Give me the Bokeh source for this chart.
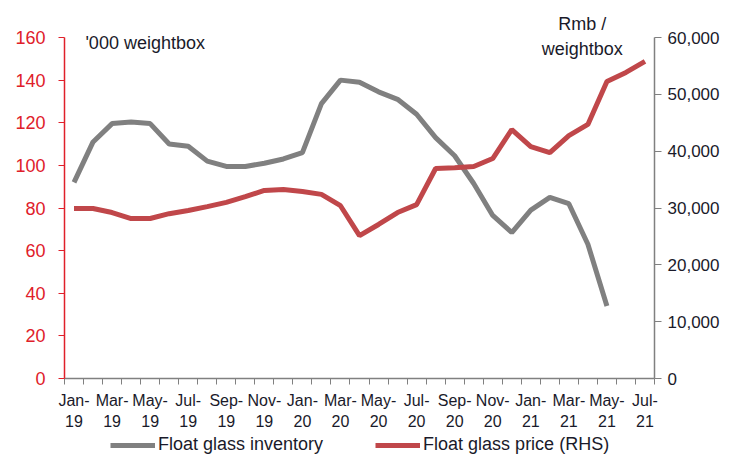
from bokeh.plotting import figure
from bokeh.models import (Range1d, LinearAxis, FixedTicker, NumeralTickFormatter,
                          Legend, LegendItem, Label, ColumnDataSource)
from bokeh.embed import file_html
from bokeh.resources import INLINE

months = ["Jan-19", "Feb-19", "Mar-19", "Apr-19", "May-19", "Jun-19", "Jul-19", "Aug-19",
          "Sep-19", "Oct-19", "Nov-19", "Dec-19", "Jan-20", "Feb-20", "Mar-20", "Apr-20",
          "May-20", "Jun-20", "Jul-20", "Aug-20", "Sep-20", "Oct-20", "Nov-20", "Dec-20",
          "Jan-21", "Feb-21", "Mar-21", "Apr-21", "May-21", "Jun-21", "Jul-21"]

inventory = [92, 111, 119.6, 120.3, 119.6, 110, 109, 102, 99.5, 99.5, 101, 103,
             106, 129, 140, 139, 134.5, 131, 124, 113, 104.5, 91.5, 76.5, 68.5,
             79, 85, 82, 63, 34]

price = [29900, 29900, 29200, 28150, 28150, 29000, 29550, 30250, 31000, 32000, 33100, 33250,
         32900, 32400, 30400, 25150, 27100, 29200, 30600, 36950, 37100, 37300, 38700, 43800,
         40800, 39750, 42750, 44700, 52250, 53850, 55800]

left_ticks = [0, 20, 40, 60, 80, 100, 120, 140, 160]
right_ticks = [0, 10000, 20000, 30000, 40000, 50000, 60000]

FONT = "Liberation Sans"
GRAY = "#808080"
RED = "#c0474a"
AXRED = "#e0202a"
TXT = "#1a1a2a"

# geometry (pixels): the frame covers the whole canvas, axes are pinned in it
W, H = 731, 456
AX_LEFT, AX_RIGHT = 64, 654     # where the first / last month boundary sit
AX_TOP, AX_BOTTOM = 37, 378     # where 160 and 0 sit
n = len(months)
x_lo, x_hi = -0.5, n - 0.5
ppx = (AX_RIGHT - AX_LEFT) / (x_hi - x_lo)
xmin = x_lo - AX_LEFT / ppx
xmax = x_hi + (W - AX_RIGHT) / ppx
ppu = (AX_BOTTOM - AX_TOP) / left_ticks[-1]
ymax = left_ticks[-1] + AX_TOP / ppu
ymin = -(H - AX_BOTTOM) / ppu
scale = right_ticks[-1] / left_ticks[-1]

idx = list(range(n))
src_inv = ColumnDataSource(dict(x=idx[:len(inventory)], y=inventory))
src_pr = ColumnDataSource(dict(x=idx[:len(price)], y=price))

p = figure(frame_width=W, frame_height=H,
           output_backend="svg", toolbar_location=None,
           x_range=Range1d(xmin, xmax), y_range=Range1d(ymin, ymax),
           min_border_left=0, min_border_right=0,
           min_border_top=0, min_border_bottom=0)
p.outline_line_color = None
p.grid.visible = False
p.background_fill_color = "white"
p.border_fill_color = "white"
p.extra_y_ranges = {"price": Range1d(ymin * scale, ymax * scale)}

r_inv = p.line("x", "y", source=src_inv, line_color=GRAY, line_width=5)
r_pr = p.line("x", "y", source=src_pr, line_color=RED, line_width=5, y_range_name="price")

label_pos = idx[::2]

# x axis (month part): ticks at month boundaries, sitting at value 0
xa = p.xaxis[0]
xa.fixed_location = 0
xa.bounds = (x_lo, x_hi)
xa.ticker = FixedTicker(ticks=label_pos, minor_ticks=[i - 0.5 for i in range(n + 1)])
xa.major_label_overrides = {i: months[i].split("-")[0] + "-" for i in label_pos}
xa.major_tick_in = 0
xa.major_tick_out = 0
xa.minor_tick_in = 0
xa.minor_tick_out = 6
xa.axis_line_color = GRAY
xa.minor_tick_line_color = GRAY
xa.axis_line_width = 1.5
xa.major_label_text_font = FONT
xa.major_label_text_font_size = "16px"
xa.major_label_text_color = TXT
xa.major_label_standoff = 7

# second x axis (year part)
xa2 = LinearAxis(ticker=FixedTicker(ticks=label_pos, minor_ticks=[]), fixed_location=0,
                 bounds=(x_lo, x_hi))
xa2.major_label_overrides = {i: months[i].split("-")[1] for i in label_pos}
xa2.axis_line_color = None
xa2.major_tick_line_color = None
xa2.minor_tick_line_color = None
xa2.major_tick_in = 0
xa2.major_tick_out = 0
xa2.minor_tick_in = 0
xa2.minor_tick_out = 0
xa2.major_label_text_font = FONT
xa2.major_label_text_font_size = "16px"
xa2.major_label_text_color = TXT
xa2.major_label_standoff = 36
p.add_layout(xa2, "below")

ya = p.yaxis[0]
ya.fixed_location = x_lo
ya.ticker = FixedTicker(ticks=left_ticks)
ya.bounds = (left_ticks[0], left_ticks[-1])
ya.axis_line_color = AXRED
ya.major_tick_line_color = AXRED
ya.axis_line_width = 1.5
ya.major_tick_in = 0
ya.major_tick_out = 6
ya.minor_tick_out = 0
ya.minor_tick_in = 0
ya.major_label_text_color = AXRED
ya.major_label_text_font = FONT
ya.major_label_text_font_size = "18px"
ya.major_label_standoff = 13

ra = LinearAxis(y_range_name="price", ticker=FixedTicker(ticks=right_ticks),
                formatter=NumeralTickFormatter(format="0,0"),
                bounds=(right_ticks[0], right_ticks[-1]), fixed_location=x_hi)
ra.axis_line_color = GRAY
ra.major_tick_line_color = GRAY
ra.axis_line_width = 1.5
ra.major_tick_in = 0
ra.major_tick_out = 7
ra.minor_tick_out = 0
ra.minor_tick_in = 0
ra.major_label_text_color = TXT
ra.major_label_text_font = FONT
ra.major_label_text_font_size = "17px"
ra.major_label_standoff = 6
p.add_layout(ra, "right")

p.add_layout(Label(x=0.6, y=157.5, text="'000 weightbox", text_font=FONT, text_font_size="18px",
                   text_color=TXT, text_baseline="middle"))
p.add_layout(Label(x=26.7, y=166.5, text="Rmb /", text_font=FONT, text_font_size="18px",
                   text_color=TXT, text_baseline="middle", text_align="center"))
p.add_layout(Label(x=26.7, y=154.5, text="weightbox", text_font=FONT, text_font_size="18px",
                   text_color=TXT, text_baseline="middle", text_align="center"))

legend = Legend(items=[LegendItem(label="Float glass inventory", renderers=[r_inv]),
                       LegendItem(label="Float glass price (RHS)", renderers=[r_pr])],
                location=(110, 1), orientation="horizontal",
                label_text_font=FONT, label_text_font_size="18px", label_text_color=TXT,
                glyph_width=45, glyph_height=20, label_height=20, label_standoff=3,
                spacing=52, padding=0, margin=0,
                border_line_color=None, background_fill_alpha=0)
p.add_layout(legend, "center")

open("out.html", "w").write(file_html(p, INLINE))
